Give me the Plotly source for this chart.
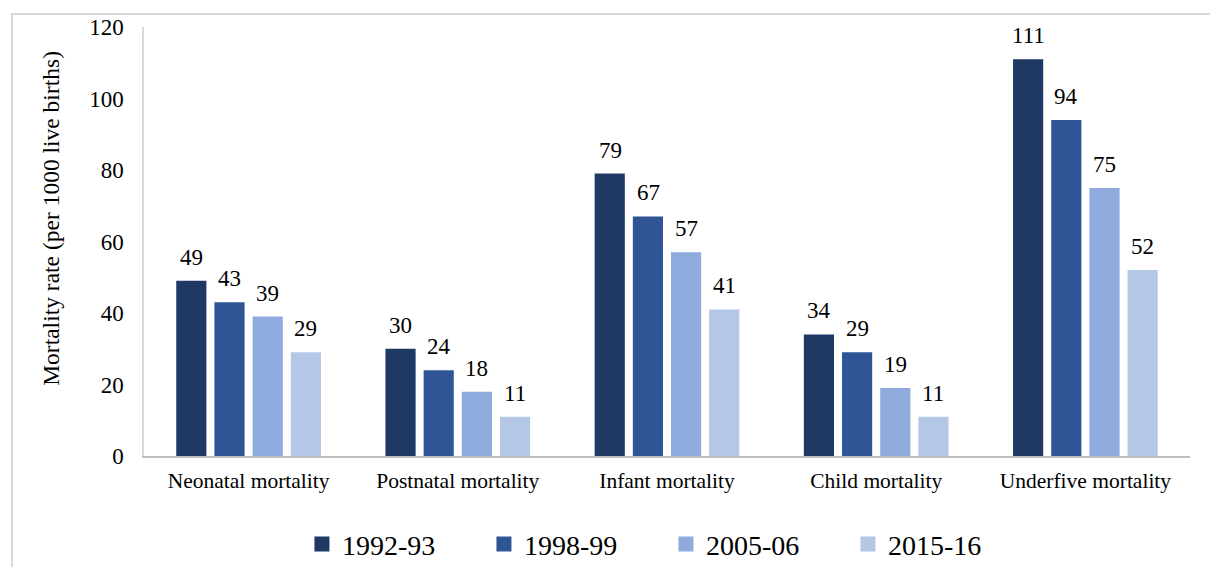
import plotly.graph_objects as go

categories = ["Neonatal mortality", "Postnatal mortality", "Infant mortality",
              "Child mortality", "Underfive mortality"]
series_names = ["1992-93", "1998-99", "2005-06", "2015-16"]
v_1992 = [49, 30, 79, 34, 111]
v_1998 = [43, 24, 67, 29, 94]
v_2005 = [39, 18, 57, 19, 75]
v_2015 = [29, 11, 41, 11, 52]
y_ticks = [0, 20, 40, 60, 80, 100, 120]

values = [v_1992, v_1998, v_2005, v_2015]
colors = ["#203864", "#2F5597", "#8FAADC", "#B4C7E7"]
label_xshift = [-57, -19, 19, 57]
FONT = "Liberation Serif"

fig = go.Figure()
for name, vals, col in zip(series_names, values, colors):
    fig.add_trace(go.Bar(
        x=categories, y=vals, name=name, marker_color=col,
        marker_line_width=0, showlegend=False,
    ))
for name, col in zip(series_names, colors):
    fig.add_trace(go.Scatter(
        x=[None], y=[None], mode="markers", name=name,
        marker=dict(symbol="square", size=15, color=col),
    ))

annotations = []
for vals, dx in zip(values, label_xshift):
    for cat, v in zip(categories, vals):
        annotations.append(dict(
            x=cat, y=v, xref="x", yref="y", text=str(v), showarrow=False,
            xanchor="center", yanchor="bottom", xshift=dx, yshift=9,
            font=dict(family=FONT, size=23, color="#000000"),
        ))
annotations.append(dict(
    text="Mortality rate (per 1000 live births)", textangle=-90,
    xref="paper", yref="paper", x=-0.0890, y=0.555,
    xanchor="center", yanchor="middle", showarrow=False,
    font=dict(family=FONT, size=23.5, color="#000000"),
))

fig.update_layout(
    width=1210, height=567,
    margin=dict(l=144, r=20, t=27, b=111, autoexpand=False),
    paper_bgcolor="white", plot_bgcolor="white",
    font=dict(family=FONT, color="#000000"),
    barmode="group", bargap=0.27, bargroupgap=0.21,
    legend=dict(orientation="h", x=0.151, xanchor="left",
                yref="container", y=0.04, yanchor="middle",
                font=dict(family=FONT, size=28, color="#000000"),
                entrywidth=137, itemwidth=30,
                bgcolor="rgba(0,0,0,0)"),
    annotations=annotations,
    shapes=[dict(type="rect", xref="paper", yref="paper",
                 x0=-0.1262, x1=1.03, y0=-0.3, y1=1.0303,
                 line=dict(color="#D9D9D9", width=2), layer="below")],
)
fig.update_yaxes(range=[0, 120], tickvals=y_ticks, showgrid=False, zeroline=False,
                 showline=True, linecolor="#D9D9D9", linewidth=1.5,
                 tickfont=dict(family=FONT, size=23), ticklabelstandoff=14)
fig.update_xaxes(showgrid=False, showline=True, linecolor="#BFBFBF", linewidth=1.5,
                 tickfont=dict(family=FONT, size=21.5), ticklabelstandoff=4)

fig.write_html("out.html")
